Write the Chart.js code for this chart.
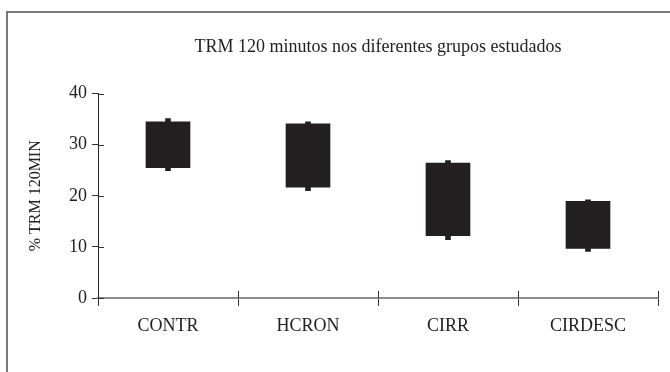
<!DOCTYPE html>
<html>
<head>
<meta charset="utf-8">
<script src="https://cdn.jsdelivr.net/npm/chart.js@4"></script>
<style>
  html, body { margin: 0; padding: 0; background: #fff; }
  #wrap { width: 670px; height: 372px; }
</style>
</head>
<body>
<div id="wrap"><canvas id="myChart" width="670" height="372"></canvas></div>
<script>
const grupos = ["CONTR", "HCRON", "CIRR", "CIRDESC"];
// caixa (limite inferior / superior)
const caixaBaixo = [25.5, 21.7, 12.2, 9.7];
const caixaAlto = [34.5, 34.1, 26.4, 18.9];
// extremos (bigodes)
const minimo = [24.9, 21.0, 11.4, 9.1];
const maximo = [35.1, 34.5, 26.9, 19.2];
const yTicks = [0, 10, 20, 30, 40];

const serif = "'Liberation Serif', 'DejaVu Serif', serif";
const cor = "#231f20";

// moldura + marcas que cruzam os eixos
const extras = {
  id: "extras",
  afterLayout(chart) {
    const t = chart.titleBlock;
    t.left = chart.chartArea.left;
    t.right = chart.chartArea.right;
    t.width = t.right - t.left;
  },
  afterDraw(chart) {
    const ctx = chart.ctx;
    const a = chart.chartArea;
    const y = chart.scales.y;
    const x = chart.scales.x;
    ctx.save();
    ctx.strokeStyle = "#7a7a7a";
    ctx.lineWidth = 2;
    ctx.beginPath();
    ctx.moveTo(7, 380);
    ctx.lineTo(7, 12);
    ctx.lineTo(680, 12);
    ctx.stroke();

    ctx.strokeStyle = "#333";
    ctx.lineWidth = 1;
    ctx.beginPath();
    yTicks.forEach(v => {
      const py = Math.round(y.getPixelForValue(v)) + 0.5;
      ctx.moveTo(a.left, py);
      ctx.lineTo(a.left + 6, py);
    });
    for (let i = 1; i <= grupos.length; i++) {
      const px = Math.round(x.left + (x.right - x.left) * i / grupos.length) + 0.5;
      ctx.moveTo(px, a.bottom);
      ctx.lineTo(px, a.bottom - 7);
    }
    ctx.stroke();
    ctx.restore();
  }
};

const ctx = document.getElementById("myChart").getContext("2d");
new Chart(ctx, {
  type: "bar",
  data: {
    labels: grupos,
    datasets: [
      {
        label: "caixa",
        data: grupos.map((_, i) => [caixaBaixo[i], caixaAlto[i]]),
        backgroundColor: cor,
        borderWidth: 0,
        barThickness: 44,
        grouped: false,
        order: 1
      },
      {
        label: "extremos",
        data: grupos.map((_, i) => [minimo[i], maximo[i]]),
        backgroundColor: cor,
        borderWidth: 0,
        barThickness: 5,
        grouped: false,
        order: 2
      }
    ]
  },
  options: {
    responsive: false,
    animation: false,
    layout: { padding: { left: 0, right: 12, top: 0, bottom: 0 } },
    plugins: {
      legend: { display: false },
      tooltip: { enabled: false },
      title: {
        display: true,
        text: "TRM 120 minutos nos diferentes grupos estudados",
        color: "#222",
        font: { family: serif, size: 18, weight: "normal", lineHeight: 1.2 },
        padding: { top: 36, bottom: 36 }
      }
    },
    scales: {
      x: {
        offset: true,
        grid: {
          offset: true,
          drawOnChartArea: false,
          drawTicks: true,
          tickLength: 8,
          color: "#333"
        },
        border: { color: "#8a8a8a", width: 2 },
        ticks: {
          color: "#222",
          padding: 9,
          font: { family: serif, size: 18 }
        },
        afterFit(s) { s.height = 74; }
      },
      y: {
        min: 0,
        max: 40,
        afterBuildTicks(s) { s.ticks = yTicks.map(v => ({ value: v })); },
        grid: {
          drawOnChartArea: false,
          tickLength: 6,
          color: "#333"
        },
        border: { color: "#222", width: 1 },
        ticks: {
          color: "#222",
          padding: 5,
          font: { family: serif, size: 18 }
        },
        title: {
          display: true,
          text: "% TRM 120MIN",
          color: "#222",
          font: { family: serif, size: 16 },
          padding: { top: 26, bottom: 0 }
        },
        afterFit(s) { s.width = 98; }
      }
    }
  },
  plugins: [extras]
});
</script>
</body>
</html>
